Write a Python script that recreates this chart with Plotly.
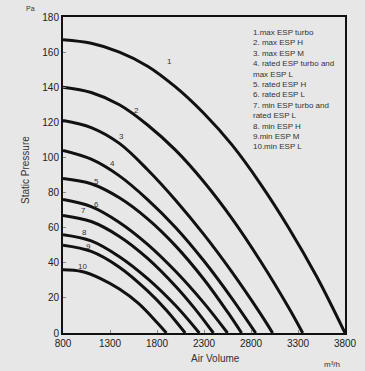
import plotly.graph_objects as go

# Curve data (air volume m3/h, static pressure Pa)
c1_x = [800, 1100, 1400, 1700, 2000, 2300, 2600, 2900, 3200, 3500, 3800]
c1_p = [167, 165, 160, 152, 140, 125, 107, 85, 60, 32, 0]
c2_x = [800, 1100, 1400, 1700, 2000, 2300, 2600, 2900, 3200, 3350]
c2_p = [140, 137, 130, 118.5, 104, 86, 65, 41, 14.5, 0]
c3_x = [800, 1100, 1400, 1700, 2000, 2300, 2600, 2900, 3030]
c3_p = [121, 117, 108, 93, 75.5, 56, 34.5, 11, 0]
c4_x = [800, 1100, 1400, 1700, 2000, 2300, 2600, 2850]
c4_p = [104, 99, 89.5, 76, 60, 41, 19.5, 0]
c5_x = [800, 1100, 1400, 1700, 2000, 2300, 2550, 2700]
c5_p = [88, 85, 77, 65, 49.5, 30.5, 12, 0]
c6_x = [800, 1100, 1400, 1700, 2000, 2300, 2550]
c6_p = [76, 72, 63, 50.5, 35, 17, 0]
c7_x = [800, 1100, 1400, 1700, 2000, 2200, 2400]
c7_p = [67, 63.5, 55, 42.5, 26.5, 14, 0]
c8_x = [800, 1100, 1400, 1700, 2000, 2250]
c8_p = [56, 52.5, 43.5, 31, 15.5, 0]
c9_x = [800, 1100, 1400, 1700, 1900, 2100]
c9_p = [50, 46.5, 37.5, 24, 13, 0]
c10_x = [800, 1000, 1200, 1400, 1600, 1800, 1900]
c10_p = [36, 35, 31, 25, 17, 6, 0]

curve_names = ["1", "2", "3", "4", "5", "6", "7", "8", "9", "10"]
label_x = [1931, 1580, 1420, 1324, 1154, 1154, 1016, 1027, 1069, 1005]
label_p = [154.4, 126.5, 112, 96.5, 86.2, 73, 69.6, 57, 49, 38]

x_ticks = [800, 1300, 1800, 2300, 2800, 3300, 3800]
y_ticks = [0, 20, 40, 60, 80, 100, 120, 140, 160, 180]

legend_lines = [
    "1.max ESP turbo",
    "2. max ESP H",
    "3. max ESP M",
    "4. rated ESP turbo and",
    "max ESP L",
    "5. rated ESP H",
    "6. rated ESP L",
    "7. min ESP turbo and",
    "rated ESP L",
    "8. min ESP H",
    "9.min ESP M",
    "10.min ESP L",
]

curves = [(c1_x, c1_p), (c2_x, c2_p), (c3_x, c3_p), (c4_x, c4_p), (c5_x, c5_p),
          (c6_x, c6_p), (c7_x, c7_p), (c8_x, c8_p), (c9_x, c9_p), (c10_x, c10_p)]

BG = "#e7e7e7"
FONT = "Liberation Sans, Arial, sans-serif"
TXT = "#333333"

fig = go.Figure()
for name, (xs, ps) in zip(curve_names, curves):
    fig.add_trace(go.Scatter(x=xs, y=ps, mode="lines", name=name,
                             line=dict(color="#111111", width=3, shape="spline"),
                             showlegend=False, hoverinfo="skip"))

for name, lx, lp in zip(curve_names, label_x, label_p):
    fig.add_annotation(x=lx, y=lp, text=name, showarrow=False,
                       font=dict(size=8, color=TXT, family=FONT))

# legend text block
fig.add_annotation(x=2800, y=175, xref="x", yref="y", xanchor="left", yanchor="top",
                   align="left", showarrow=False,
                   text="<br>".join(legend_lines),
                   font=dict(size=8, color=TXT, family=FONT))

# axis titles and units as annotations (paper coords; plot area 282x316)
fig.add_annotation(x=(30 - 63) / 282, y=(333 - 8) / 316, xref="paper", yref="paper",
                   xanchor="center", yanchor="middle",
                   text="Pa", showarrow=False, font=dict(size=7, color=TXT, family=FONT))
fig.add_annotation(x=(25 - 63) / 282, y=(333 - 170) / 316, xref="paper", yref="paper",
                   xanchor="center", yanchor="middle", textangle=-90,
                   text="Static Pressure", showarrow=False, font=dict(size=10, color=TXT, family=FONT))
fig.add_annotation(x=(215 - 63) / 282, y=(333 - 358) / 316, xref="paper", yref="paper",
                   xanchor="center", yanchor="middle",
                   text="Air Volume", showarrow=False, font=dict(size=10, color=TXT, family=FONT))
fig.add_annotation(x=(332 - 63) / 282, y=(333 - 364) / 316, xref="paper", yref="paper",
                   xanchor="center", yanchor="middle",
                   text="m³/h", showarrow=False, font=dict(size=8, color=TXT, family=FONT))

fig.update_layout(
    width=365, height=371,
    margin=dict(l=63, r=20, t=17, b=38),
    paper_bgcolor=BG, plot_bgcolor=BG,
    font=dict(family=FONT, color="#222222"),
    xaxis=dict(range=[800, 3800], tickvals=x_ticks, ticktext=[str(v) for v in x_ticks],
               showgrid=False, zeroline=False, showline=True, linecolor="#111111", linewidth=2,
               mirror=True, ticks="inside", ticklen=3, tickcolor="#888888", automargin=False,
               tickfont=dict(size=10, color="#222222")),
    yaxis=dict(range=[0, 180], tickvals=y_ticks, ticktext=[str(v) for v in y_ticks],
               showgrid=False, zeroline=False, showline=True, linecolor="#111111", linewidth=2,
               mirror=True, ticks="inside", ticklen=3, tickcolor="#888888", automargin=False,
               tickfont=dict(size=10, color="#222222")),
)

fig.write_html("out.html", config={"displayModeBar": False, "staticPlot": True},
               post_script="document.body.style.margin='0';document.body.style.padding='0';"
                           "document.documentElement.style.overflow='hidden';")
